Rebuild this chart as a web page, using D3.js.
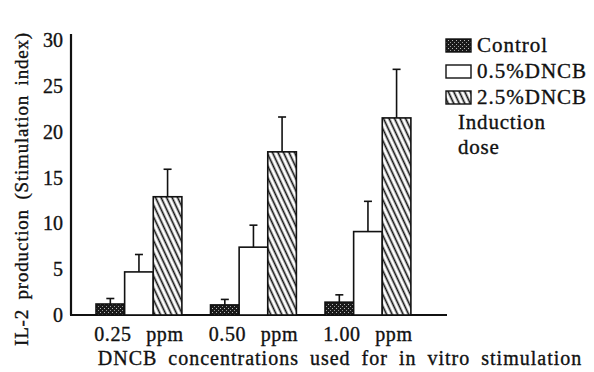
<!DOCTYPE html>
<html>
<head>
<meta charset="utf-8">
<script src="https://cdn.jsdelivr.net/npm/d3@7"></script>
<style>
  body { margin: 0; background: #fff; }
  text { font-family: "Liberation Serif", "DejaVu Serif", serif; fill: #111; stroke: #111; stroke-width: 0.35px; }
</style>
</head>
<body>
<div id="chart"></div>
<script>
// values
const groups = ['0.25 ppm', '0.50 ppm', '1.00 ppm'];
const series = ['Control', '0.5%DNCB', '2.5%DNCB'];
const control = [1.2, 1.1, 1.4];
const controlErr = [0.6, 0.6, 0.8];
const dncbLow = [4.7, 7.4, 9.1];
const dncbLowErr = [1.9, 2.4, 3.3];
const dncbHigh = [12.9, 17.8, 21.5];
const dncbHighErr = [3.0, 3.8, 5.3];
const yTicks = [0, 5, 10, 15, 20, 25, 30];

const width = 594, height = 372;
const values = [control, dncbLow, dncbHigh];
const errs = [controlErr, dncbLowErr, dncbHighErr];

const svg = d3.select('#chart')
  .append('svg')
  .attr('width', width)
  .attr('height', height)
  .style('background-color', 'white');

const defs = svg.append('defs');

// dark stipple for control
const stip = defs.append('pattern')
  .attr('id', 'stipple')
  .attr('patternUnits', 'userSpaceOnUse')
  .attr('width', 4).attr('height', 4);
stip.append('rect').attr('width', 4).attr('height', 4).attr('fill', '#1a1a1a');
stip.append('rect').attr('x', 0).attr('y', 0).attr('width', 1).attr('height', 1).attr('fill', '#bbb');
stip.append('rect').attr('x', 2).attr('y', 2).attr('width', 1).attr('height', 1).attr('fill', '#999');

// diagonal hatch for 2.5%
const hatch = defs.append('pattern')
  .attr('id', 'hatch')
  .attr('patternUnits', 'userSpaceOnUse')
  .attr('width', 5).attr('height', 5)
  .attr('patternTransform', 'rotate(-25)');
hatch.append('rect').attr('width', 5).attr('height', 5).attr('fill', 'white');
hatch.append('line')
  .attr('x1', 2.5).attr('y1', 0).attr('x2', 2.5).attr('y2', 5)
  .attr('stroke', '#111').attr('stroke-width', 1.7);

const fills = ['url(#stipple)', 'white', 'url(#hatch)'];

const y = d3.scaleLinear().domain([0, 30]).range([315, 40]);
const x0 = d3.scaleBand().domain(groups).range([81.7, 425.2])
  .paddingInner(0.25).paddingOuter(0.125);
const x1 = d3.scaleBand().domain(series).range([0, x0.bandwidth()]);

// axes lines
svg.append('line')
  .attr('x1', 71).attr('x2', 71)
  .attr('y1', y(30) - 6).attr('y2', y(0))
  .attr('stroke', '#111').attr('stroke-width', 2.2);
svg.append('line')
  .attr('x1', 70).attr('x2', 447)
  .attr('y1', y(0)).attr('y2', y(0))
  .attr('stroke', '#111').attr('stroke-width', 2.2);

// y tick labels
svg.selectAll('.ytick')
  .data(yTicks)
  .enter()
  .append('text')
    .attr('x', 63)
    .attr('y', d => y(d))
    .attr('dy', '0.35em')
    .attr('text-anchor', 'end')
    .attr('font-size', '20px')
    .text(d => d);

// bars
const barData = [];
groups.forEach((g, gi) => {
  series.forEach((s, si) => {
    barData.push({ g, s, si, v: values[si][gi], e: errs[si][gi] });
  });
});

const bars = svg.append('g');
bars.selectAll('rect')
  .data(barData)
  .enter()
  .append('rect')
    .attr('x', d => x0(d.g) + x1(d.s))
    .attr('y', d => y(d.v))
    .attr('width', x1.bandwidth())
    .attr('height', d => y(0) - y(d.v))
    .attr('fill', d => fills[d.si])
    .attr('stroke', '#111')
    .attr('stroke-width', 1.6);

// error bars
const eb = svg.append('g').attr('stroke', '#111').attr('stroke-width', 1.6);
eb.selectAll('.stem')
  .data(barData)
  .enter()
  .append('line')
    .attr('x1', d => x0(d.g) + x1(d.s) + x1.bandwidth() / 2)
    .attr('x2', d => x0(d.g) + x1(d.s) + x1.bandwidth() / 2)
    .attr('y1', d => y(d.v))
    .attr('y2', d => y(d.v + d.e));
eb.selectAll('.cap')
  .data(barData)
  .enter()
  .append('line')
    .attr('x1', d => x0(d.g) + x1(d.s) + x1.bandwidth() / 2 - 4)
    .attr('x2', d => x0(d.g) + x1(d.s) + x1.bandwidth() / 2 + 4)
    .attr('y1', d => y(d.v + d.e))
    .attr('y2', d => y(d.v + d.e));

// x group labels
svg.selectAll('.xlab')
  .data(groups)
  .enter()
  .append('text')
    .attr('x', d => x0(d) + x0.bandwidth() / 2)
    .attr('y', 341)
    .attr('text-anchor', 'middle')
    .attr('font-size', '20px')
    .attr('letter-spacing', '0.6px')
    .attr('word-spacing', '9px')
    .text(d => d);

// axis titles
svg.append('text')
  .attr('x', 340)
  .attr('y', 365)
  .attr('text-anchor', 'middle')
  .attr('font-size', '20px')
  .attr('letter-spacing', '1px')
  .attr('word-spacing', '5px')
  .text('DNCB concentrations used for in vitro stimulation');

svg.append('text')
  .attr('transform', 'translate(28,189) rotate(-90)')
  .attr('text-anchor', 'middle')
  .attr('font-size', '19px')
  .attr('letter-spacing', '0.8px')
  .attr('word-spacing', '4px')
  .text('IL-2 production (Stimulation index)');

// legend
const legend = svg.append('g');
legend.selectAll('rect')
  .data(series)
  .enter()
  .append('rect')
    .attr('x', 446)
    .attr('y', (d, i) => 39 + i * 26)
    .attr('width', 25)
    .attr('height', 13)
    .attr('fill', (d, i) => fills[i])
    .attr('stroke', '#111')
    .attr('stroke-width', 1.4);
legend.selectAll('text')
  .data(series)
  .enter()
  .append('text')
    .attr('x', 477)
    .attr('y', (d, i) => 45 + i * 26)
    .attr('dy', '0.35em')
    .attr('font-size', '21px')
    .attr('letter-spacing', '1px')
    .text(d => d);
legend.append('text')
  .attr('x', 458).attr('y', 129)
  .attr('font-size', '21px')
  .attr('letter-spacing', '0.8px')
  .text('Induction');
legend.append('text')
  .attr('x', 458).attr('y', 154)
  .attr('font-size', '21px')
  .attr('letter-spacing', '0.8px')
  .text('dose');
</script>
</body>
</html>
